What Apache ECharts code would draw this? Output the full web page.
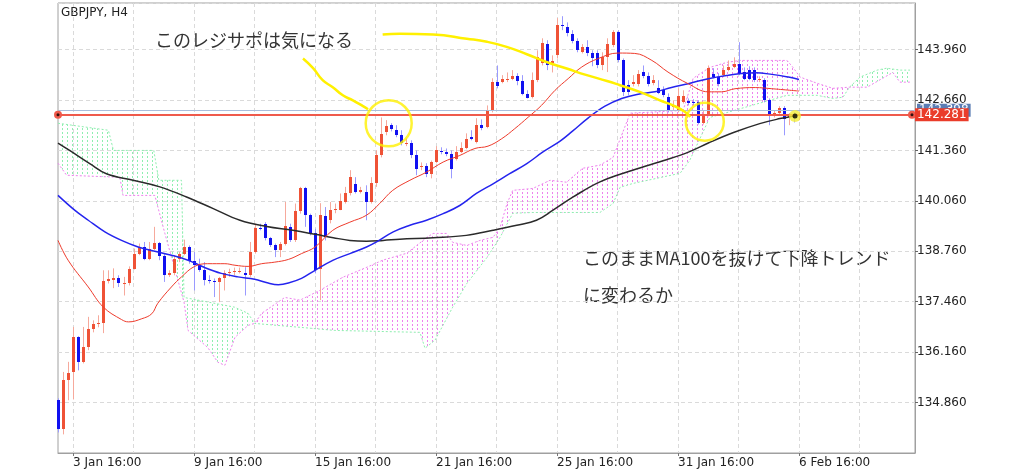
<!DOCTYPE html>
<html><head><meta charset="utf-8">
<script src="https://cdn.jsdelivr.net/npm/echarts@6/dist/echarts.min.js"></script>
<style>html,body{margin:0;padding:0;background:#fff}#c{width:1024px;height:473px}</style>
</head><body><div id="c"></div>
<script>
// ---- data (GBPJPY H4) ----
const opens = [134.92,134.19,135.43,135.65,136.55,135.91,136.29,136.75,136.88,136.91,
137.99,138.03,138.06,137.91,137.94,138.31,138.70,138.87,138.55,138.83,
138.97,138.63,138.14,138.19,138.55,138.68,138.87,138.50,138.40,138.29,
138.03,137.99,137.97,138.06,138.20,138.23,138.22,138.19,138.14,138.74,
139.36,139.47,139.09,138.91,138.79,138.96,139.39,139.06,139.80,140.38,
139.69,139.22,138.31,139.66,139.56,139.82,139.83,140.03,140.26,140.49,
140.29,140.29,140.03,140.52,141.23,141.83,142.01,141.88,141.75,141.54,
141.55,141.23,140.92,140.95,140.74,141.06,141.35,141.31,141.26,141.15,
141.32,141.43,141.71,141.58,142.01,141.96,142.39,143.12,143.13,143.17,
143.20,143.29,143.15,142.82,142.74,143.17,143.61,144.11,143.61,143.81,
144.60,144.53,144.37,144.18,143.90,144.03,143.86,143.86,143.55,143.77,
144.07,144.41,143.68,143.04,143.07,143.07,143.38,143.27,143.09,142.97,
142.91,142.74,142.47,142.39,142.61,142.63,142.61,142.61,142.07,142.31,
143.34,143.25,143.30,143.44,143.51,143.60,143.38,143.43,143.43,143.17,
143.17,142.65,142.26,142.32,142.46,142.21,142.29,142.24];
const closes = [134.19,135.43,135.62,136.55,135.91,136.29,136.75,136.88,136.91,137.99,
138.04,138.07,137.93,137.94,138.31,138.70,138.87,138.55,138.83,138.97,
138.64,138.14,138.21,138.55,138.68,138.87,138.50,138.40,138.27,138.03,
137.99,137.96,138.07,138.19,138.23,138.25,138.25,138.14,138.74,139.36,
139.33,139.11,138.91,138.79,138.96,139.40,139.06,139.80,140.38,139.69,
139.22,138.29,139.69,139.13,139.83,139.86,140.06,140.26,140.67,140.29,
140.33,140.03,140.52,141.23,141.79,141.98,141.90,141.75,141.55,141.56,
141.23,140.87,140.95,140.76,141.06,141.36,141.31,141.28,140.87,141.32,
141.43,141.66,141.66,142.01,141.94,142.39,143.12,143.01,143.19,143.20,
143.27,143.15,142.82,142.72,143.17,143.76,144.12,143.55,143.66,144.59,
144.56,144.38,144.18,143.94,144.03,143.86,143.73,143.55,143.77,144.11,
144.41,143.68,142.87,142.87,143.12,143.34,143.27,143.07,143.17,142.84,
142.78,142.39,142.52,142.76,142.76,142.57,142.57,142.07,142.31,143.48,
143.25,143.08,143.44,143.51,143.60,143.34,143.21,143.21,143.17,143.19,
142.65,142.26,142.32,142.46,142.18,142.26,142.24,142.281];
const highs = [134.97,135.65,135.91,136.81,136.57,136.81,137.07,136.98,137.11,138.27,
138.27,138.32,138.14,138.10,138.37,138.83,138.96,139.00,139.00,139.39,
139.00,138.71,138.27,138.66,138.74,139.06,138.91,138.74,138.57,138.48,
138.14,138.06,138.10,138.27,138.31,138.34,138.34,138.35,139.00,139.47,
139.47,139.51,139.13,138.96,139.00,140.03,139.47,139.99,140.42,140.42,
139.73,139.34,140.00,139.90,140.03,139.99,140.25,140.42,140.85,140.67,
140.42,140.46,140.67,141.36,142.21,142.14,142.06,142.01,141.88,141.67,
141.62,141.36,141.05,141.03,141.10,141.47,141.44,141.41,141.36,141.47,
141.57,141.80,141.88,142.19,142.16,142.52,143.22,143.55,143.30,143.37,
143.43,143.35,143.30,142.91,143.37,143.94,144.25,144.20,143.81,144.77,
144.82,144.66,144.46,144.25,144.10,144.20,143.94,143.94,143.89,144.25,
144.46,144.46,143.73,143.17,143.30,143.43,143.55,143.37,143.30,143.17,
143.01,142.83,142.65,142.96,142.91,142.70,142.68,142.65,142.39,143.55,
143.48,143.35,143.55,143.68,143.76,144.15,143.50,143.53,143.50,143.27,
143.22,142.70,142.39,142.50,142.50,142.32,142.34,142.34];
const lows = [134.09,134.04,134.92,134.94,135.69,135.87,136.21,136.67,136.80,136.65,
137.93,137.81,137.84,137.62,137.88,138.29,138.66,138.53,138.53,138.79,
138.53,137.97,138.10,138.14,138.48,138.66,138.44,137.75,138.23,137.88,
137.93,137.58,137.45,137.75,138.10,138.14,138.19,137.62,138.10,138.70,
139.30,139.04,138.87,138.61,138.61,138.91,139.00,139.00,139.73,139.39,
139.17,138.19,137.50,139.04,139.48,139.74,139.82,139.99,140.20,140.25,
140.25,139.56,139.99,140.42,141.18,141.75,141.85,141.70,141.49,141.47,
141.16,140.72,140.85,140.67,140.64,141.03,141.26,141.21,140.64,141.10,
141.29,141.39,141.62,141.54,141.88,141.93,142.34,142.96,143.09,143.12,
143.17,143.04,142.78,142.70,142.70,143.12,143.55,143.43,143.37,143.73,
144.46,144.30,144.12,143.89,143.86,143.79,143.53,143.48,143.43,143.38,
144.02,143.63,142.76,142.78,143.01,143.01,143.22,143.01,143.04,142.81,
142.73,142.34,142.39,142.34,142.57,142.52,142.52,142.03,142.03,142.24,
143.22,143.01,143.25,143.40,143.48,143.30,143.17,143.17,143.12,143.12,
142.60,142.01,142.21,142.29,141.75,142.01,142.08,142.14];

// moving averages: [bar index, price]
const maRed = [[0,139.04],[2,138.53],[6,137.84],[9,137.32],[12.6,137.00],[14,136.94],[16.6,137.02],[18.6,137.15],[19.8,137.42],[22.5,137.84],[24.5,138.10],[27.1,138.37],[29.7,138.44],[33.1,138.44],[35.1,138.40],[37.7,138.37],[40.4,138.44],[43,138.48],[45.7,138.55],[48.3,138.70],[51,138.87],[54.5,139.30],[57.9,139.51],[61.2,139.69],[63.8,139.99],[66.4,140.33],[69.8,140.59],[73.1,140.80],[76.4,141.06],[79.7,141.23],[82.7,141.41],[85.3,141.47],[88,141.66],[90.6,141.92],[93.3,142.22],[95.9,142.52],[98.6,142.91],[101.2,143.21],[103.9,143.51],[107.2,143.73],[111.1,143.87],[114.4,143.86],[117.8,143.68],[121,143.38],[125,143.08],[129,142.87],[131.6,142.87],[134.3,142.95],[138.3,142.98],[141.6,142.95],[147,142.89]];
const maBlue = [[0,140.20],[3.3,139.82],[6,139.56],[9.3,139.26],[12.6,139.04],[15.9,138.87],[19.2,138.76],[22.5,138.66],[25.8,138.53],[29.1,138.34],[32.4,138.19],[35.7,138.10],[39,138.04],[41.7,137.94],[43.7,137.90],[45.7,137.94],[48.3,138.06],[51,138.27],[54.6,138.53],[57.9,138.70],[61.2,138.87],[63.2,139.00],[66.5,139.26],[69.8,139.43],[73.1,139.56],[76.4,139.73],[79.7,139.94],[83,140.25],[86.3,140.50],[89.6,140.76],[93,141.02],[96.2,141.32],[99.6,141.60],[102,141.85],[105.2,142.20],[108.5,142.50],[111.8,142.70],[115.1,142.81],[118.4,142.87],[121.7,142.98],[125,143.08],[129,143.21],[133,143.30],[135.6,143.34],[138.3,143.36],[141.6,143.32],[144.9,143.25],[147,143.19]];
const ma100 = [[0,141.55],[2.3,141.36],[6.3,141.02],[9.6,140.76],[14.9,140.59],[20.2,140.42],[25.5,140.16],[30.8,139.86],[36.1,139.56],[41.4,139.40],[46.6,139.30],[51.3,139.19],[54.6,139.11],[57.9,139.04],[61.2,139.02],[64.5,139.04],[67.8,139.07],[74.4,139.11],[81,139.17],[86.3,139.30],[91,139.43],[94.9,139.56],[98.2,139.82],[102.2,140.16],[107.5,140.55],[114,140.85],[120.7,141.12],[125.3,141.33],[129,141.55],[134,141.82],[139.2,142.05],[143.2,142.18],[146,142.25]];

// Ichimoku spans: [bar index, price]
const spanA = [[0,142.06],[10,141.88],[11,141.36],[19,141.36],[20,140.59],[24.5,140.59],[25,137.57],[35,137.32],[37.7,137.16],[39,136.9],[48,136.80],[54.9,136.72],[71.8,136.67],[72.8,136.26],[74.8,136.47],[78.3,137.32],[81.1,137.93],[85.1,138.60],[87.7,139.12],[90.2,139.74],[94.2,139.76],[107.5,139.76],[110.1,139.99],[111.5,140.41],[114.1,140.51],[123.4,140.77],[125.3,141.10],[129.3,142.21],[144.6,142.78],[150.6,142.78],[153.7,142.70],[155.7,142.73],[157,142.99],[159.1,143.25],[162.5,143.43],[164.4,143.48],[167,143.43],[169,143.43]];
const spanB = [[0,141.03],[1.7,140.72],[11.7,140.67],[12.3,140.64],[12.9,140.20],[19.2,140.20],[21.2,139.22],[25,137.45],[25.8,136.72],[29.7,136.28],[31.7,135.90],[33.1,135.82],[35.1,136.54],[37.7,136.85],[39,136.9],[40.4,137.16],[45,137.57],[48,137.50],[51.9,137.75],[56.5,138.09],[61.3,138.35],[64.4,138.53],[69.2,138.71],[73.2,139.12],[74.4,139.22],[77.1,139.22],[78.3,138.99],[81.1,138.91],[83.7,139.04],[86.3,139.12],[87.7,139.38],[89.1,140.00],[90.2,140.33],[94.2,140.38],[97.6,140.59],[100.9,140.54],[102.9,140.77],[104.1,140.90],[107.5,140.98],[110.1,141.18],[113.5,142.32],[124,142.39],[126,143.22],[129.3,143.50],[132.7,143.63],[135.3,143.68],[144.6,143.68],[145.8,143.50],[147.2,143.25],[150.6,143.09],[153.7,142.96],[157,142.99],[160.5,142.99],[165.6,143.37],[167,143.12],[169,143.12]];
// cloud regions: [from index, to index, 0 = green (A on top) / 1 = pink (B on top)]
const cloudRegions = [[0,39,0],[39,157,1],[157,169,0]];

const tickIdx = [3,27,51,75,99,123,147];
const tickLabels = ['3 Jan 16:00','9 Jan 16:00','15 Jan 16:00','21 Jan 16:00','25 Jan 16:00','31 Jan 16:00','6 Feb 16:00'];
const yTickLabels = ['134.860','136.160','137.460','138.760','140.060','141.360','142.660','143.960'];
const bidPrice = 142.281;
const askPrice = 142.398;

// hand-drawn annotations: [bar index, price]
const stroke1 = [[48.6,143.73],[50.6,143.48],[52.5,143.17],[54.5,142.99],[56.5,142.78],[58.5,142.65],[60.5,142.50],[61.5,142.42]];
const stroke2 = [[64.4,144.35],[67.8,144.37],[74.4,144.35],[81.1,144.24],[85.1,144.16],[89,144.03],[93,143.84],[96.9,143.64],[100.9,143.47],[104.9,143.30],[108.9,143.15],[111.5,143.04],[115.4,142.87],[119.4,142.65],[122,142.52],[124.4,142.35],[125.4,142.22]];
const circles = [[65.6,142.06],[128.3,142.10]];
const markDot = [[146.2,142.25]];

// ---- chart ----
const N = 171;
const catData = Array.from({length: N}, (_, i) => { const k = tickIdx.indexOf(i); return k >= 0 ? tickLabels[k] : ''; });
function hatch(color) {
  const cv = document.createElement('canvas'); cv.width = 5; cv.height = 4;
  const g = cv.getContext('2d'); g.fillStyle = color; g.fillRect(2, 0, 1, 2);
  return { image: cv, repeat: 'repeat' };
}
const greenFill = hatch('#8fefb0');
const pinkFill = hatch('#ee82ee');
const AX = 'DejaVu Sans';
const chart = echarts.init(document.getElementById('c'), null, {renderer: 'canvas'});
chart.setOption({
  animation: false,
  backgroundColor: '#fff',
  grid: {left: 58, top: 3, width: 857, height: 450, show: true, borderColor: '#a0a0a0', borderWidth: 1},
  xAxis: [
    {type: 'category', data: catData, boundaryGap: false, position: 'bottom',
     axisLine: {show: true, lineStyle: {color: '#a0a0a0', width: 1}},
     axisTick: {show: true, interval: (i) => tickIdx.includes(i), length: 3, lineStyle: {color: '#777'}},
     axisLabel: {interval: (i) => tickIdx.includes(i), align: 'left', margin: 4, color: '#222', fontFamily: AX, fontSize: 12},
     splitLine: {show: true, interval: (i) => i % 12 === 3, lineStyle: {color: '#dadada', type: [4, 3]}}},
    {type: 'value', min: 0, max: 170, show: false, position: 'top'}
  ],
  yAxis: [
    {type: 'value', min: 133.56, max: 145.16, show: false, position: 'left'},
    {type: 'value', min: 0, max: 8.923077, interval: 1, position: 'right',
     axisLine: {show: true, lineStyle: {color: '#a0a0a0'}},
     axisTick: {show: true, length: 3, lineStyle: {color: '#666'}},
     axisLabel: {margin: 2, color: '#222', fontFamily: AX, fontSize: 12, showMinLabel: false, showMaxLabel: false,
                 formatter: v => yTickLabels[Math.round(v) - 1] || ''},
     splitLine: {show: true, lineStyle: {color: '#dadada', type: [4, 3]}}}
  ],
  series: [
    {type: 'custom', name: 'cloud', xAxisIndex: 1, yAxisIndex: 0, silent: true, z: 1,
     data: cloudRegions,
     renderItem: (params, api) => {
       const s = api.value(0), e = api.value(1), k = api.value(2);
       const top = spanA.filter(p => p[0] >= s && p[0] <= e).map(p => api.coord(p));
       const bot = spanB.filter(p => p[0] >= s && p[0] <= e).map(p => api.coord(p)).reverse();
       return {type: 'polygon', shape: {points: top.concat(bot)}, style: {fill: k ? pinkFill : greenFill}};
     }},
    {type: 'line', name: 'spanA', xAxisIndex: 1, yAxisIndex: 0, data: spanA, symbol: 'none', silent: true, z: 2,
     lineStyle: {color: '#8fefb0', width: 1, type: [2, 2]}},
    {type: 'line', name: 'spanB', xAxisIndex: 1, yAxisIndex: 0, data: spanB, symbol: 'none', silent: true, z: 2,
     lineStyle: {color: '#ee82ee', width: 1, type: [2, 2]}},
    {type: 'custom', name: 'candles', xAxisIndex: 1, yAxisIndex: 0, silent: true, z: 3,
     data: opens.map((o, i) => [i, o, closes[i], lows[i], highs[i]]),
     encode: {x: 0, y: [1, 2, 3, 4]},
     renderItem: (params, api) => {
       const i = api.value(0), o = api.value(1), c = api.value(2), l = api.value(3), h = api.value(4);
       const pO = api.coord([i, o]), pC = api.coord([i, c]), pH = api.coord([i, h]), pL = api.coord([i, l]);
       const x = Math.round(pO[0]) + 0.5;
       const up = c >= o;
       const top = Math.round(Math.min(pO[1], pC[1])), bot = Math.round(Math.max(pO[1], pC[1]));
       return {type: 'group', children: [
         {type: 'line', shape: {x1: x, y1: pH[1], x2: x, y2: pL[1]}, style: {stroke: up ? '#f6a99c' : '#9a9aff', lineWidth: 1}},
         {type: 'rect', shape: {x: x - 1.5, y: top, width: 3, height: Math.max(1, bot - top)}, style: {fill: up ? '#ef5236' : '#1010f0'}}
       ]};
     }},
    {type: 'line', name: 'MA100', xAxisIndex: 1, yAxisIndex: 0, data: ma100, symbol: 'none', smooth: 0.4, silent: true, z: 4,
     lineStyle: {color: '#2b2b2b', width: 1.5}},
    {type: 'line', name: 'MA blue', xAxisIndex: 1, yAxisIndex: 0, data: maBlue, symbol: 'none', smooth: 0.4, silent: true, z: 4,
     lineStyle: {color: '#2424ee', width: 1.5}},
    {type: 'line', name: 'MA red', xAxisIndex: 1, yAxisIndex: 0, data: maRed, symbol: 'none', smooth: 0.4, silent: true, z: 4,
     lineStyle: {color: '#ee3b2c', width: 1}},
    {type: 'line', name: 'ask', xAxisIndex: 1, yAxisIndex: 0, data: [], symbol: 'none', silent: true, z: 5,
     markLine: {silent: true, symbol: 'none', animation: false,
       lineStyle: {color: '#a9bedc', width: 1, type: 'solid'},
       label: {show: true, position: 'end', distance: 2, formatter: String(askPrice.toFixed(3)), color: '#fff', backgroundColor: '#5b7db4', padding: [1, 2, 0, 2], fontFamily: AX, fontSize: 12},
       data: [[{coord: [0, askPrice]}, {coord: [170, askPrice]}]]}},
    {type: 'line', name: 'bid', xAxisIndex: 1, yAxisIndex: 0, data: [], symbol: 'none', silent: true, z: 6,
     markLine: {silent: true, symbol: ['circle', 'circle'], symbolSize: 8, animation: false,
       lineStyle: {color: '#ef5a4c', width: 2, type: 'solid'},
       itemStyle: {color: '#ef3b2c'},
       label: {show: true, position: 'end', distance: 3, formatter: bidPrice.toFixed(3), color: '#fff', backgroundColor: '#ea3c2a', padding: [1, 2, 0, 2], fontFamily: AX, fontSize: 12},
       data: [[{coord: [0, bidPrice]}, {coord: [169.4, bidPrice]}]]}},
    {type: 'scatter', name: 'ends', xAxisIndex: 1, yAxisIndex: 0, data: [[0, bidPrice], [169.4, bidPrice]], symbolSize: 3, silent: true, z: 7,
     itemStyle: {color: '#000'}},
    {type: 'line', name: 'stroke1', xAxisIndex: 1, yAxisIndex: 0, data: stroke1, symbol: 'none', smooth: 0.5, silent: true, z: 8,
     lineStyle: {color: '#fff000', width: 2.5}},
    {type: 'line', name: 'stroke2', xAxisIndex: 1, yAxisIndex: 0, data: stroke2, symbol: 'none', smooth: 0.5, silent: true, z: 8,
     lineStyle: {color: '#fff000', width: 2.5}},
    {type: 'scatter', name: 'circles', xAxisIndex: 1, yAxisIndex: 0, data: circles, silent: true, z: 8,
     symbol: 'circle', symbolSize: (v, p) => p.dataIndex === 0 ? 46 : 38,
     itemStyle: {color: 'rgba(0,0,0,0)', borderColor: '#fff000', borderWidth: 2.5}},
    {type: 'scatter', name: 'dotY', xAxisIndex: 1, yAxisIndex: 0, data: markDot, symbolSize: 12, silent: true, z: 9,
     itemStyle: {color: '#f4ef3a'}},
    {type: 'scatter', name: 'dotK', xAxisIndex: 1, yAxisIndex: 0, data: markDot, symbolSize: 5, silent: true, z: 10,
     itemStyle: {color: '#000'}}
  ],
  graphic: [
    {type: 'text', x: 61, y: 13, silent: true, style: {text: 'GBPJPY, H4', font: '12px "DejaVu Sans"', fill: '#222', verticalAlign: 'middle', textVerticalAlign: 'middle'}},
    {type: 'text', x: 155, y: 40, silent: true, style: {text: 'このレジサポは気になる', font: '18px "Noto Sans CJK JP"', fill: '#333', verticalAlign: 'middle', textVerticalAlign: 'middle'}},
    {type: 'text', x: 583, y: 258, silent: true, style: {text: 'このままMA100を抜けて下降トレンド', font: '18px "Noto Sans CJK JP"', fill: '#333', verticalAlign: 'middle', textVerticalAlign: 'middle'}},
    {type: 'text', x: 583, y: 295, silent: true, style: {text: 'に変わるか', font: '18px "Noto Sans CJK JP"', fill: '#333', verticalAlign: 'middle', textVerticalAlign: 'middle'}}
  ]
});
</script>
</body></html>
